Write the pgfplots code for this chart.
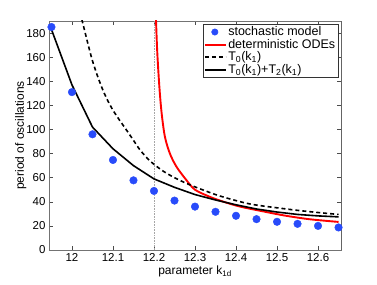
\documentclass[border=0pt]{standalone}
\usepackage{pgfplots}
\pgfplotsset{compat=1.18}
\usepackage{fontspec}
\setmainfont{Liberation Sans}
\definecolor{dotblue}{RGB}{40,75,250}
\definecolor{odered}{RGB}{255,0,0}
\begin{document}
\begin{tikzpicture}
\begin{axis}[
  name=main,
  scale only axis,
  width=292pt, height=229pt,
  xmin=11.944, xmax=12.656,
  ymin=0, ymax=190,
  xtick={12,12.1,12.2,12.3,12.4,12.5,12.6},
  ytick={0,20,40,60,80,100,120,140,160,180},
  xticklabels={12,12.1,12.2,12.3,12.4,12.5,12.6},
  tick align=inside,
  major tick length=4pt,
  tick style={black!70, line width=0.5pt},
  axis line style={black!55, line width=0.9pt},
  /pgf/number format/assume math mode=true,
  tick label style={font=\fontsize{11.5}{13}\selectfont},
  xlabel={parameter k\textsubscript{1d}},
  ylabel={period of oscillations},
  label style={font=\fontsize{12}{14}\selectfont},
  xlabel style={yshift=3pt},
  ylabel style={yshift=-7pt},
  legend style={at={(1,1)}, anchor=north east, xshift=-3pt, yshift=-3pt,
    draw=black!80, line width=0.5pt, font=\fontsize{12.5}{14}\selectfont,
    inner sep=1pt, row sep=-1pt,
    nodes={inner sep=1.5pt}},
  legend cell align=left,
  clip=true,
]
\addplot[gray!70, densely dotted, line width=0.6pt, forget plot] coordinates {(12.2,0) (12.2,190)};

\addplot[only marks, mark=*, mark size=3.8pt, color=dotblue,
  legend image code/.code={\fill[dotblue] (10pt,0pt) circle (3.2pt);}]
coordinates {
(11.95,185) (12.0,131) (12.05,96) (12.1,74.7) (12.15,57.8) (12.2,49)
(12.25,41) (12.3,36) (12.35,31.7) (12.4,28.4) (12.45,25.6) (12.5,23.4)
(12.55,21.7) (12.6,20) (12.65,18.7)};
\addlegendentry{stochastic model}

\addplot[draw=odered, line width=1.9pt, smooth,
  legend image code/.code={\draw[draw=odered, line width=1.9pt] (0pt,0pt) -- (21pt,0pt);}]
coordinates {
(12.2045,200) (12.2049,191) (12.208,164) (12.213,136) (12.2185,114)
(12.2266,94) (12.2388,80) (12.255,69) (12.279,58) (12.30,50) (12.337,44)
(12.37,40) (12.41,36) (12.47,31.8) (12.52,28.5) (12.58,25.5) (12.65,23.3)};
\addlegendentry{deterministic ODEs}

\addplot[black, line width=1.6pt, dash pattern=on 4pt off 3pt, smooth,
  legend image code/.code={\draw[black, line width=1.6pt, dash pattern=on 4pt off 3pt] (0pt,0pt) -- (21pt,0pt);}]
coordinates {
(12.02,197) (12.025,190) (12.05,157) (12.075,133) (12.1,116) (12.136,98)
(12.15,91) (12.166,83) (12.19,74) (12.22,66) (12.25,60) (12.288,54)
(12.35,46) (12.4,41) (12.44,37.8) (12.5,35) (12.55,32.9) (12.6,31.1)
(12.65,29.5)};
\addlegendentry{T\textsubscript{0}(k\textsubscript{1})}

\addplot[black, line width=1.6pt,
  legend image code/.code={\draw[black, line width=1.6pt] (0pt,0pt) -- (21pt,0pt);}]
coordinates {
(11.95,183) (12.0,137) (12.05,102) (12.1,84) (12.15,70) (12.2,59)
(12.25,52) (12.3,46) (12.35,41.5) (12.4,37.5) (12.45,34) (12.5,31.5)
(12.55,29.5) (12.6,28.3) (12.65,27.5)};
\addlegendentry{T\textsubscript{0}(k\textsubscript{1})+T\textsubscript{2}(k\textsubscript{1})}

\draw[black, line width=0.9pt] (rel axis cs:1,0) -- (rel axis cs:1,1);
\end{axis}
\pgfresetboundingbox
\path ([shift={(-49pt,-34pt)}]main.south west) rectangle ([shift={(36pt,21pt)}]main.north east);
\end{tikzpicture}
\end{document}
